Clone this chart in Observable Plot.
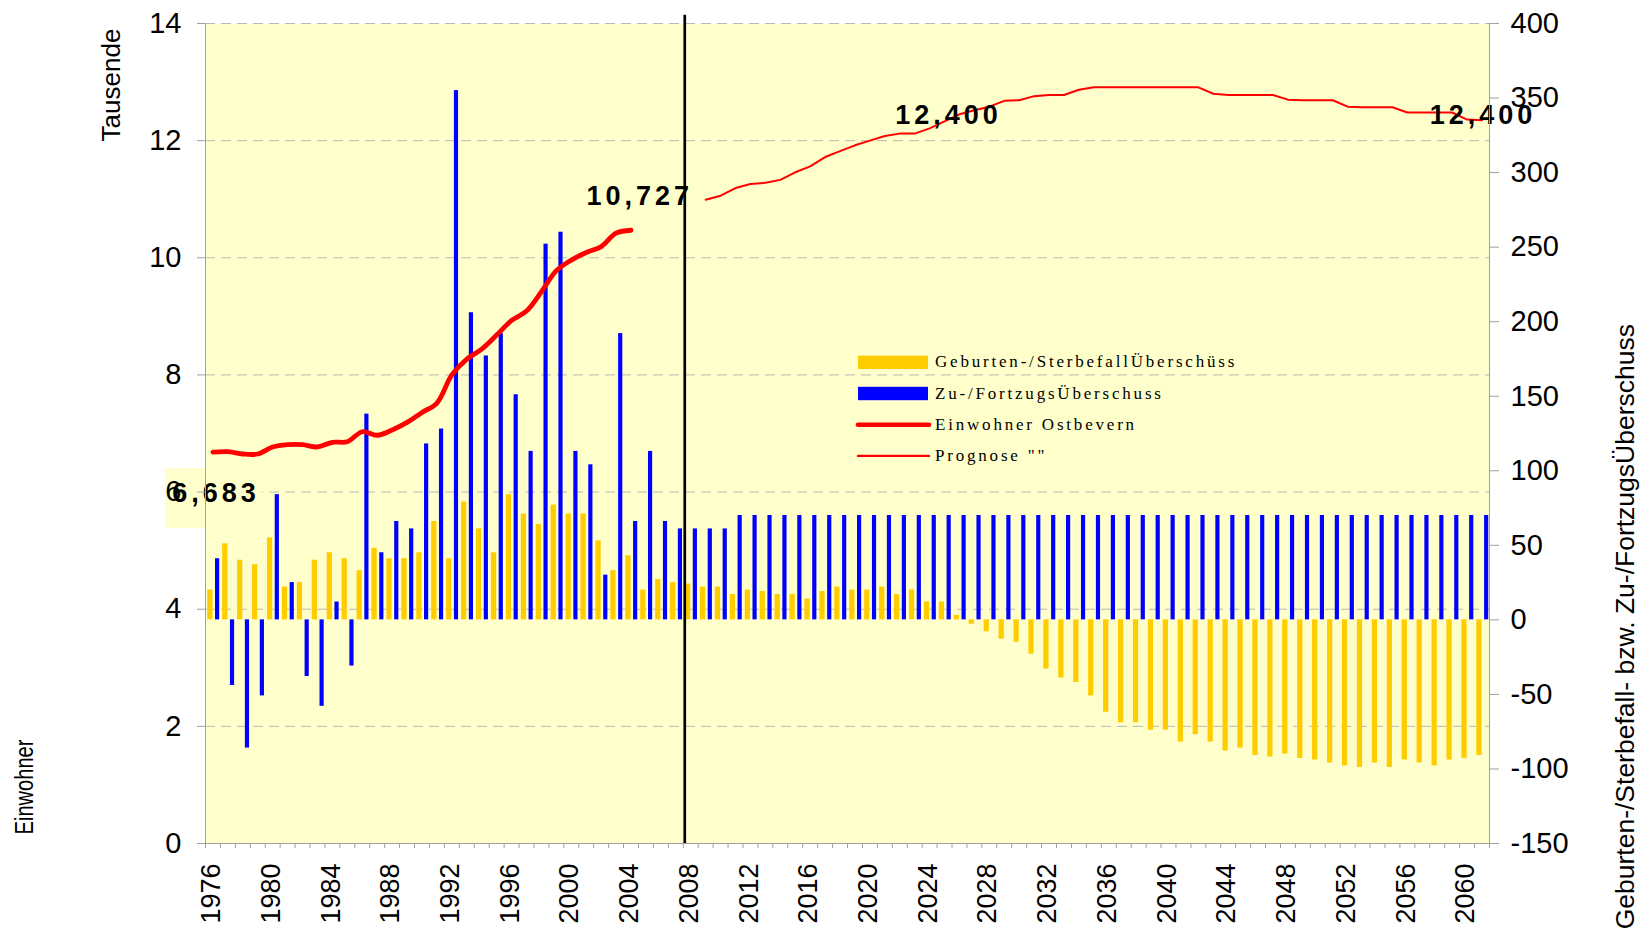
<!DOCTYPE html>
<html><head><meta charset="utf-8">
<script src="https://cdn.jsdelivr.net/npm/d3@7"></script>
<script src="https://cdn.jsdelivr.net/npm/@observablehq/plot@0.6"></script>
<style>
html,body{margin:0;padding:0;background:#fff;}
</style></head><body><div id="chart"></div>
<script>
// ---------- data ----------
const years = d3.range(1976, 2062); // categories 1976..2061
// Geburten-/Sterbefall-Überschuss (right axis)
const natural = [20,51,40,37,55,22,25,40,45,41,
  33,48,41,41,45,66,41,79,61,45,
  84,71,64,77,71,71,53,33,43,20,
  27,25,24,22,22,17,20,19,17,17,
  14,19,22,20,20,22,17,20,12,12,
  3,-3,-8,-13,-15,-23,-33,-39,-42,-51,
  -62,-69,-69,-74,-74,-82,-77,-82,-88,-86,
  -91,-92,-90,-93,-94,-96,-98,-99,-96,-99,
  -94,-96,-98,-94,-93,-91];
// Zu-/Fortzugs-Überschuss (right axis)
const migration = [41,-44,-86,-51,84,25,-38,-58,12,-31,
  138,45,66,61,118,128,355,206,177,192,
  151,113,252,260,113,104,30,192,66,113,
  66,61,61,61,61,70,70,70,70,70,
  70,70,70,70,70,70,70,70,70,70,
  70,70,70,70,70,70,70,70,70,70,
  70,70,70,70,70,70,70,70,70,70,
  70,70,70,70,70,70,70,70,70,70,
  70,70,70,70,70,70];
// Einwohner Ostbevern (Tausende, left axis)
const popYears = d3.range(1976, 2005);
const population = [6.683,6.69,6.65,6.65,6.77,6.81,6.81,6.77,6.85,6.86,
  7.03,6.97,7.06,7.19,7.36,7.52,8.00,8.27,8.44,8.68,
  8.93,9.09,9.42,9.78,9.96,10.09,10.19,10.42,10.47];
// Prognose
const forecastYears = d3.range(2009, 2062);
const forecast = [10.99,11.06,11.19,11.26,11.28,11.33,11.46,11.56,11.72,11.82,11.92,12.00,
  12.08,12.12,12.12,12.21,12.33,12.45,12.52,12.58,12.68,12.69,
  12.76,12.78,12.78,12.87,12.91,12.91,12.91,12.91,12.91,12.91,
  12.91,12.91,12.80,12.78,12.78,12.78,12.78,12.70,12.69,12.69,
  12.69,12.58,12.57,12.57,12.57,12.48,12.48,12.48,12.48,12.36,12.35];
const labelYears = [1976, 2007, 2025, 2061];
const labelValues = [6.683, 10.727, 12.4, 12.4];
const labelTexts = ["6,683", "10,727", "12,400", "12,400"];
const forecastStart = 2008.1;
const xLabelYears = d3.range(1976, 2061, 4);
const leftTicks = d3.range(0, 15, 2);
const rightTicks = d3.range(-150, 401, 50);
const rightDomain = [-150, 400];
const leftDomain = [0, 14];
const legendNames = ["Geburten-/SterbefallÜberschüss", "Zu-/FortzugsÜberschuss", "Einwohner Ostbevern", "Prognose \"\""];
const legendColors = ["#FFCC00", "#0000FF", "#FF0000", "#FF0000"];

// ---------- helpers ----------
const toLeft = v => (v - rightDomain[0]) * (leftDomain[1] - leftDomain[0]) / (rightDomain[1] - rightDomain[0]);
const toRight = l => l * (rightDomain[1] - rightDomain[0]) / (leftDomain[1] - leftDomain[0]) + rightDomain[0];
const bars = years.map((y, i) => ({year: y, nat: natural[i], mig: migration[i]}));
const pop = popYears.map((y, i) => ({year: y, v: population[i]}));
const prog = forecastYears.map((y, i) => ({year: y, v: forecast[i]}));
const labels = labelYears.map((y, i) => ({year: y, v: labelValues[i], t: labelTexts[i]}));
const base = toLeft(0);
const FONT = "'Liberation Sans', Arial, Helvetica, sans-serif";

const labelMark = (d, dx, dy) => Plot.text([d], {
  x: d => d.year + 0.5, y: d => d.v, text: d => d.t, dx, dy,
  fontSize: 27, fontWeight: "bold", fill: "black", fontFamily: FONT
});

const chart = Plot.plot({
  width: 1645, height: 937,
  marginLeft: 205, marginRight: 156, marginTop: 23, marginBottom: 94,
  x: {domain: [1976, 2062]},
  y: {domain: leftDomain},
  style: {fontFamily: FONT, background: "white", color: "black", overflow: "visible"},
  marks: [
    Plot.frame({fill: "#FFFFCC", stroke: null}),
    Plot.gridY(leftTicks.filter(v => v > 0), {stroke: "#B8B8B8", strokeOpacity: 1, strokeDasharray: "10,6"}),
    Plot.rect(bars, {x1: d => d.year + 0.15, x2: d => d.year + 0.5, y1: base, y2: d => toLeft(d.nat), fill: "#FFCC00"}),
    Plot.rect(bars, {x1: d => d.year + 0.67, x2: d => d.year + 0.95, y1: base, y2: d => toLeft(d.mig), fill: "#0000FF"}),
    Plot.line(pop, {x: d => d.year + 0.5, y: "v", stroke: "#FF0000", strokeWidth: 4.8, curve: "catmull-rom"}),
    Plot.line(prog, {x: d => d.year + 0.5, y: "v", stroke: "#FF0000", strokeWidth: 2}),
    Plot.ruleX([forecastStart], {y1: 0, y2: 14.14, stroke: "black", strokeWidth: 2.7}),
    labelMark(labels[0], 3, 41.5),
    labelMark(labels[1], -36, -19),
    labelMark(labels[2], 4, -2),
    labelMark(labels[3], 1, -2),
    // axis lines
    Plot.ruleY([0], {stroke: "#A0A0A0"}),
    Plot.ruleX([1976, 2062], {y1: 0, y2: 14, stroke: "#A0A0A0"}),
    // left axis
    Plot.axisY(leftTicks, {anchor: "left", tickSize: 8, tickPadding: 16, fontSize: 29, stroke: "#A0A0A0", fill: "black", label: null,
      tickFormat: d => String(d)}),
    // right axis
    Plot.axisY(rightTicks.map(toLeft), {anchor: "right", tickSize: 9, tickPadding: 12, fontSize: 29, stroke: "#A0A0A0", fill: "black", label: null,
      tickFormat: d => String(Math.round(toRight(d)))}),
    // x ticks (category boundaries)
    Plot.axisX(d3.range(1976, 2063), {anchor: "bottom", tickSize: 5, tickFormat: () => "", stroke: "#A0A0A0", label: null}),
    // x labels
    Plot.axisX(xLabelYears.map(y => y + 0.4), {anchor: "bottom", tickSize: 0, tickPadding: 20, tickRotate: -90, fontSize: 27, fill: "black",
      tickFormat: d => String(Math.round(d - 0.4)), label: null})
  ]
});

document.getElementById("chart").appendChild(chart);
const svg = d3.select(chart);

// letter spacing for data labels & box behind the first label
const dataLabelTexts = svg.selectAll("text").filter(function () { return labelTexts.includes(this.textContent); });
dataLabelTexts.style("letter-spacing", "4px");
const first = dataLabelTexts.filter(function () { return this.textContent === labelTexts[0]; }).node();
if (first) {
  const bb = first.getBBox();
  const tr = first.getAttribute("transform");
  const r = document.createElementNS("http://www.w3.org/2000/svg", "rect");
  r.setAttribute("x", bb.x - 7); r.setAttribute("y", bb.y - 10);
  r.setAttribute("width", bb.width + 9); r.setAttribute("height", bb.height + 30);
  r.setAttribute("fill", "#FFFFCC");
  if (tr) r.setAttribute("transform", tr);
  first.parentNode.insertBefore(r, first);
}
// right axis labels slightly spaced
svg.selectAll("text").filter(function () {
  return rightTicks.map(String).includes(this.textContent) && this.getAttribute("text-anchor") === "start";
}).style("letter-spacing", "1px");

// axis titles
const title = (x, y, anchor, txt, size, len) => {
  const t = svg.append("text")
    .attr("transform", `translate(${x},${y}) rotate(-90)`)
    .attr("text-anchor", anchor)
    .style("font-family", FONT).style("font-size", size + "px").attr("fill", "black")
    .text(txt);
  if (len) t.attr("textLength", len).attr("lengthAdjust", "spacingAndGlyphs");
  return t;
};
title(120, 85, "middle", "Tausende", 26);
title(33, 787, "middle", "Einwohner", 26, 95);
title(1634, 324, "end", "Geburten-/Sterbefall- bzw. Zu-/FortzugsÜberschuss", 26.5);

// legend
const lg = svg.append("g").style("font-family", "'Liberation Serif', 'Times New Roman', serif")
  .style("font-size", "17px").style("letter-spacing", "2.8px").attr("text-anchor", "start");
legendNames.forEach((name, i) => {
  const cy = 362.3 + i * 31.2;
  if (i < 2) {
    lg.append("rect").attr("x", 858).attr("y", cy - 6.7).attr("width", 70).attr("height", 13.4).attr("fill", legendColors[i]);
  } else {
    lg.append("line").attr("x1", 858).attr("x2", 929).attr("y1", cy).attr("y2", cy)
      .attr("stroke", legendColors[i]).attr("stroke-width", i === 2 ? 4.6 : 2.4).attr("stroke-linecap", "round");
  }
  lg.append("text").attr("x", 935).attr("y", cy + 5).attr("text-anchor", "start").attr("fill", "black").text(name);
});
</script></body></html>
